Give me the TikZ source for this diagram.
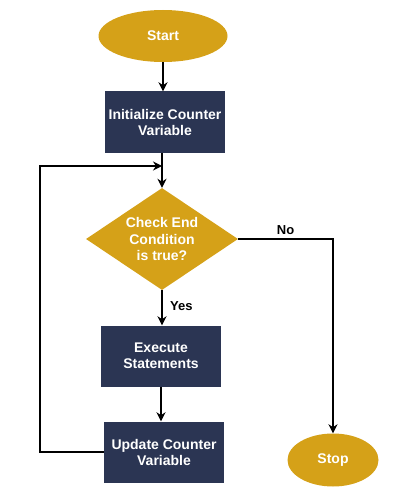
\documentclass[tikz,border=0pt]{standalone}
\usepackage{fontspec}
\setmainfont{Liberation Sans}
\usetikzlibrary{shapes.geometric,arrows.meta}
\definecolor{gold}{HTML}{D5A118}
\definecolor{navy}{HTML}{2B3553}
\tikzset{
  term/.style={ellipse, fill=gold, text=white, font=\fontsize{14}{16}\selectfont\bfseries, inner sep=0pt},
  procbox/.style={rectangle, fill=navy, text=white, font=\fontsize{14}{16}\selectfont\bfseries, minimum width=120pt, minimum height=61pt, align=center, inner sep=0pt},
  decide/.style={diamond, aspect=1.49, fill=gold, text=white, font=\fontsize{14}{16.5}\selectfont\bfseries, minimum width=152pt, minimum height=102pt, align=center, inner sep=0pt},
  conn/.style={line width=1.6pt, -{Stealth[length=9pt,width=9pt]}},
  lbl/.style={font=\fontsize{13}{15}\selectfont\bfseries, text=black}
}
\begin{document}
\begin{tikzpicture}[x=1pt,y=-1pt]
\useasboundingbox (0,0) rectangle (400,500);
\node[term, minimum width=129pt, minimum height=52pt] (start) at (163,36) {Start};
\node[procbox] (init) at (165,122) {Initialize Counter\\Variable};
\node[decide] (check) at (162,239) {Check End\\Condition\\is true?};
\node[procbox] (exec) at (161,356) {Execute\\Statements};
\node[procbox] (update) at (164,452) {Update Counter\\Variable};
\node[term, minimum width=91pt, minimum height=53pt] (stop) at (333,460) {Stop};
\coordinate (join) at (162,166);
\coordinate (loopbl) at (40,452);
\coordinate (looptl) at (40,166);
\coordinate (nocorner) at (333,239);

\draw[conn] (start.south) -- (start.south |- init.north);
\draw[conn] (init.south -| check.north) -- (check.north);
\draw[conn] (update.west) -- (loopbl) -- (looptl) -- (join);
\draw[conn] (check.south) -- (check.south |- exec.north) node[lbl, pos=0.45, right=4pt] {Yes};
\draw[conn] (exec.south) -- (exec.south |- update.north);
\draw[conn] (check.east) -- (nocorner) node[lbl, pos=0.5, above=0pt] {No} -- (stop.north);
\end{tikzpicture}
\end{document}
